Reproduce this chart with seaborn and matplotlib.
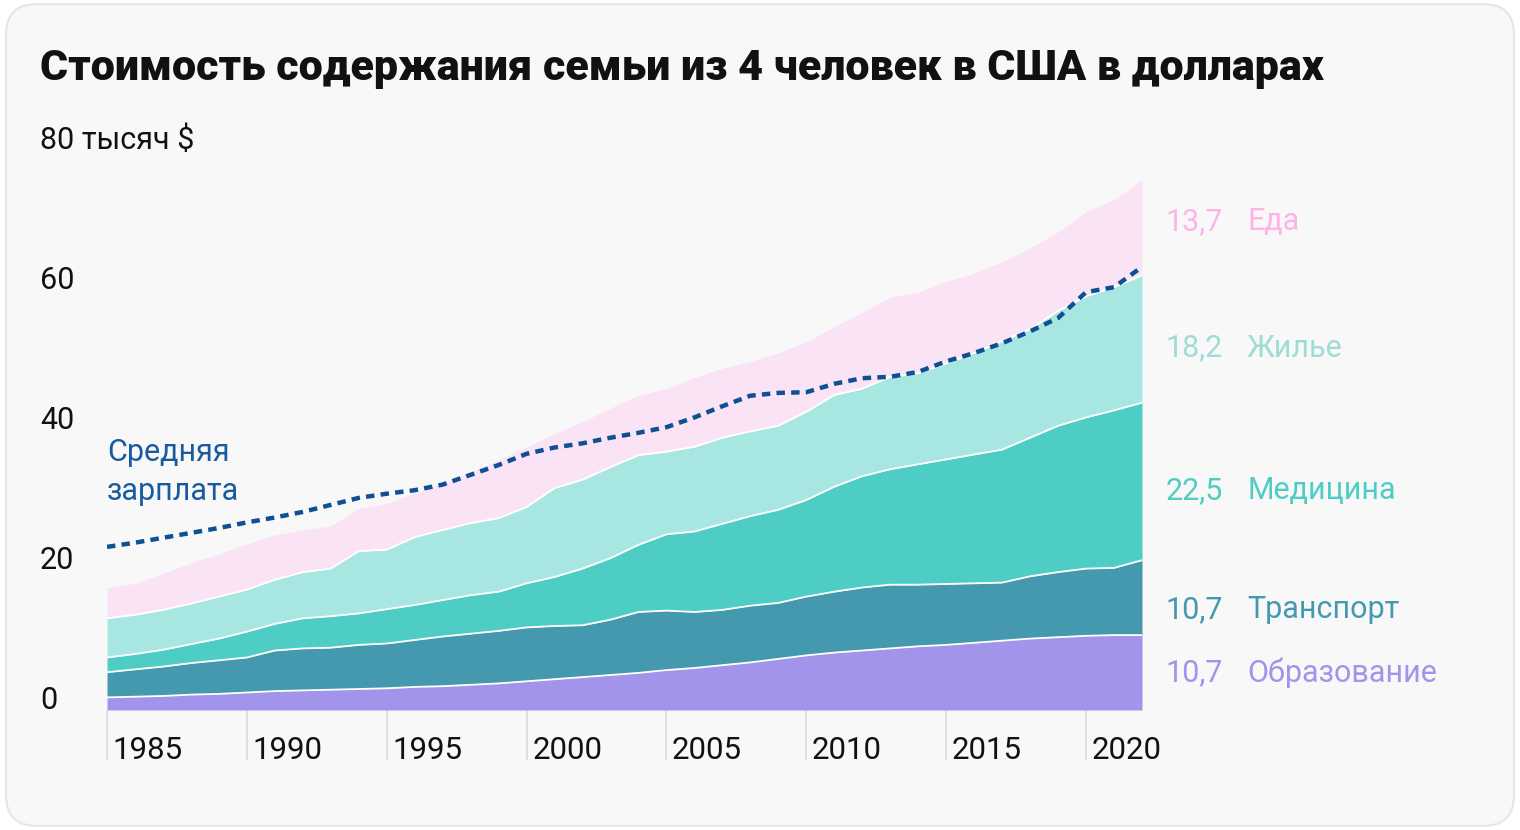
import numpy as np
import matplotlib
matplotlib.use('Agg')
import matplotlib.pyplot as plt
from matplotlib.patches import FancyBboxPatch
from matplotlib.transforms import blended_transform_factory
import seaborn as sns

# Годы и накопленные уровни (верхние границы слоёв), тыс. $
years = list(range(1985, 2023))

edu_top = [1.8, 1.9, 2.0, 2.2, 2.3, 2.5, 2.7, 2.8, 2.9, 3.0,
           3.1, 3.3, 3.4, 3.6, 3.8, 4.1, 4.4, 4.7, 5.0, 5.3,
           5.7, 6.0, 6.4, 6.8, 7.3, 7.8, 8.2, 8.5, 8.8, 9.1,
           9.3, 9.6, 9.9, 10.2, 10.4, 10.6, 10.7, 10.7]
transport_top = [5.4, 5.8, 6.2, 6.7, 7.1, 7.5, 8.5, 8.8, 8.9, 9.3,
                 9.5, 10.0, 10.5, 10.9, 11.3, 11.8, 12.0, 12.1, 12.9, 14.0,
                 14.2, 14.0, 14.3, 14.9, 15.3, 16.2, 16.9, 17.5, 17.9, 17.9,
                 18.0, 18.1, 18.2, 19.1, 19.7, 20.2, 20.3, 21.4]
medicine_top = [7.5, 8.0, 8.6, 9.4, 10.2, 11.2, 12.3, 13.1, 13.4, 13.8,
                14.4, 15.0, 15.7, 16.4, 16.9, 18.1, 19.0, 20.2, 21.7, 23.6,
                25.1, 25.5, 26.6, 27.7, 28.6, 30.0, 31.9, 33.4, 34.4, 35.1,
                35.8, 36.5, 37.2, 38.9, 40.6, 41.8, 42.8, 43.9]
housing_top = [13.1, 13.6, 14.3, 15.2, 16.2, 17.2, 18.6, 19.7, 20.2, 22.7,
               22.9, 24.7, 25.7, 26.7, 27.4, 29.0, 31.7, 32.9, 34.7, 36.4,
               36.9, 37.6, 38.9, 39.8, 40.6, 42.6, 45.0, 45.9, 47.6, 48.1,
               49.5, 51.0, 52.7, 54.4, 57.0, 59.1, 60.4, 62.1]
food_top = [17.4, 18.1, 19.5, 21.0, 22.3, 23.7, 25.0, 25.7, 26.3, 28.8,
            29.5, 31.0, 32.4, 34.0, 35.7, 37.6, 39.5, 41.2, 43.1, 45.0,
            45.9, 47.5, 48.8, 49.8, 51.0, 52.6, 54.8, 56.8, 59.0, 59.7,
            61.2, 62.4, 64.0, 66.0, 68.3, 71.2, 72.9, 75.8]
wage = [23.3, 23.9, 24.6, 25.3, 26.0, 26.8, 27.5, 28.3, 29.3, 30.3,
        30.9, 31.4, 32.2, 33.6, 35.0, 36.6, 37.5, 38.1, 38.9, 39.6,
        40.4, 41.8, 43.4, 44.9, 45.3, 45.4, 46.6, 47.4, 47.6, 48.3,
        49.8, 51.0, 52.4, 54.1, 56.0, 59.7, 60.4, 63.3]

names = ['Образование', 'Транспорт', 'Медицина', 'Жилье', 'Еда']
last_values = ['10,7', '10,7', '22,5', '18,2', '13,7']
y_ticks = [0, 20, 40, 60, 80]
x_ticks = [1985, 1990, 1995, 2000, 2005, 2010, 2015, 2020]

colors = ['#a294ea', '#4599ae', '#4ecdc4', '#a8e6e1', '#fae3f4']
label_colors = ['#a294ea', '#4599ae', '#4ecdc4', '#9edcd6', '#ffb3e8']
label_y = [5.3, 14.3, 31.4, 51.7, 69.8]

sns.set_theme(style='white')
plt.rcParams['font.family'] = ['Roboto', 'DejaVu Sans']

fig = plt.figure(figsize=(15.2, 8.3), dpi=100, facecolor='white')
bg = FancyBboxPatch((0.004, 0.005), 0.992, 0.99, boxstyle='round,pad=0,rounding_size=0.02',
                    transform=fig.transFigure, facecolor='#f8f8f8', edgecolor='#e6e6e6',
                    linewidth=1.5, mutation_aspect=1520 / 830, zorder=-10)
fig.patches.append(bg)

ax = fig.add_axes([107 / 1520, 120 / 830, 1035 / 1520, 560 / 830])
ax.set_facecolor('none')
ax.set_zorder(1)

tops = [edu_top, transport_top, medicine_top, housing_top, food_top]
lower = np.zeros(len(years))
for i, top in enumerate(tops):
    top = np.array(top)
    ax.fill_between(years, lower, top, color=colors[i], linewidth=0, zorder=1)
    lower = top
for top in tops[:-1]:
    ax.plot(years, top, color='white', linewidth=1.3, zorder=2)

sns.lineplot(x=years, y=wage, ax=ax, color='#0f4f94', linewidth=3.2,
             linestyle=(0, (1.9, 1.4)), zorder=3)

ax.set_xlim(1985, 2022)
ax.set_ylim(0, 80)
for s in ax.spines.values():
    s.set_visible(False)
ax.set_yticks([])
ax.set_xticks(x_ticks)
ax.set_xticklabels([])
ax.tick_params(axis='x', bottom=True, length=36, width=1.3, color='#dddddd', direction='out')

xt = ax.get_xaxis_transform()
for yr in x_ticks:
    ax.text(yr + 0.2, -0.073, str(yr), transform=xt, fontsize=22.5, color='#111111',
            ha='left', va='center')

yt = ax.get_yaxis_transform()
for v in y_ticks:
    txt = '80 тысяч $' if v == 80 else str(v)
    ax.text(-67 / 1035, v + 0.2, txt, transform=yt, fontsize=22, color='#111111',
            ha='left', va='baseline')

rt = blended_transform_factory(fig.transFigure, ax.transData)
for i in range(5):
    ax.text(1223 / 1520, label_y[i], last_values[i], transform=rt, fontsize=22,
            color=label_colors[i], ha='right', va='center')
    ax.text(1247 / 1520, label_y[i], names[i], transform=rt, fontsize=22,
            color=label_colors[i], ha='left', va='center')

ax.text(1985, 34.0, 'Средняя\nзарплата', fontsize=22, color='#1a5a9e',
        ha='left', va='center', linespacing=1.45)

fig.text(40 / 1520, 1 - 80 / 830, 'Стоимость содержания семьи из 4 человек в США в долларах',
         fontsize=31, fontweight='black', color='#111111', ha='left', va='baseline')

fig.savefig('out.png', dpi=100, facecolor='white')
